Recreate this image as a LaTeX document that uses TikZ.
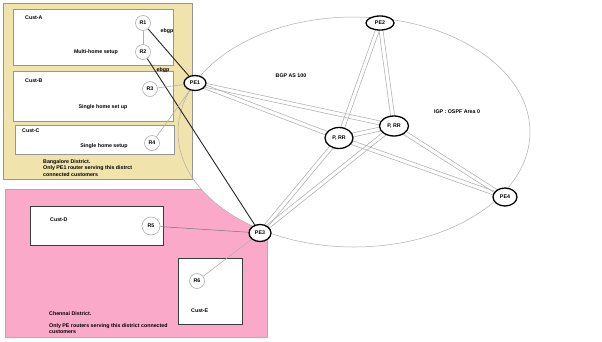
\documentclass[tikz,border=0pt]{standalone}
\usepackage{fontspec}
\setmainfont{Liberation Sans}
\usetikzlibrary{calc,shapes.geometric}
\pgfdeclarelayer{bg}
\pgfdeclarelayer{links}
\pgfsetlayers{bg,links,main}
\definecolor{yel}{RGB}{240,227,172}
\definecolor{pnk}{RGB}{250,170,200}
\definecolor{lg}{RGB}{175,175,175}
\definecolor{boxg}{RGB}{150,150,150}
\definecolor{dk}{RGB}{60,60,60}
\newcommand\duallink[2]{%
  \draw[link] ($(#1)!2pt!90:(#2)$) -- ($(#2)!2pt!-90:(#1)$);
  \draw[link] ($(#1)!2pt!-90:(#2)$) -- ($(#2)!2pt!90:(#1)$);}
\begin{document}
\begin{tikzpicture}[x=1pt,y=-1pt,
  txt/.style={font=\fontsize{5.3}{6.4}\selectfont\bfseries, inner sep=0pt},
  pe/.style={ellipse, draw=black, line width=1.3pt, fill=white, inner sep=0pt,
    font=\fontsize{5.3}{6.4}\selectfont\bfseries},
  rtr/.style={circle, draw=lg, line width=0.6pt, fill=white, minimum size=15pt, inner sep=0pt,
    font=\fontsize{5.3}{6.4}\selectfont\bfseries},
  custbox/.style={draw=boxg, line width=0.6pt, fill=white, inner sep=0pt},
  custdark/.style={draw=dk, line width=0.9pt, fill=white, inner sep=0pt},
  link/.style={draw=lg, line width=0.55pt},
  blk/.style={draw=black!85, line width=0.9pt},
]
\useasboundingbox (0,0) rectangle (602,341);

% ---------- backgrounds ----------
\begin{pgfonlayer}{bg}
  \fill[white] (0,0) rectangle (602,341);
  \draw[fill=pnk, draw=lg, line width=0.5pt] (5,189) rectangle (267,337);
  \fill[white] (354,132) ellipse [x radius=176pt, y radius=115pt];
  \draw[fill=yel, draw=boxg, line width=0.5pt] (3,3) rectangle (192,179);
  \draw[lg, line width=0.5pt] (354,132) ellipse [x radius=176pt, y radius=115pt];
  \node[custbox, minimum width=160pt, minimum height=56pt] (custA) at (93,37) {};
  \node[custbox, minimum width=160pt, minimum height=50pt] (custB) at (93,96) {};
  \node[custbox, minimum width=159pt, minimum height=29pt] (custC) at (94.5,139.5) {};
  \node[custdark, minimum width=133pt, minimum height=39pt] (custD) at (96.5,225.5) {};
  \node[custdark, minimum width=64pt, minimum height=66pt] (custE) at (210,291) {};
\end{pgfonlayer}

% ---------- texts ----------
\node[txt, anchor=west] (tA) at (25,18) {Cust-A};
\node[txt] (tAs) at (96,52) {Multi-home setup};
\node[txt, anchor=west] (tB) at (25,81) {Cust-B};
\node[txt] (tBs) at (103,107) {Single home set up};
\node[txt, anchor=west] (tC) at (22,131) {Cust-C};
\node[txt] (tCs) at (104,146) {Single home setup};
\node[txt, anchor=west] (tD) at (50,220) {Cust-D};
\node[txt, anchor=west] (tE) at (191,311) {Cust-E};
\node[txt] (eb1) at (167,31) {ebgp};
\node[txt] (eb2) at (163,70) {ebgp};
\node[txt] (bgp) at (291,76) {BGP AS 100};
\node[txt] (igp) at (457,112) {IGP : OSPF Area 0};
\node[txt, anchor=north west, align=left] (blr) at (43,159.5)
  {Bangalore District.\\Only PE1 router serving this distrct\\connected customers};
\node[txt, anchor=west] (chn) at (49,314) {Chennai District.};
\node[txt, anchor=north west, align=left] (chn2) at (49,323.5)
  {Only PE routers serving this district connected\\customers};

% ---------- core nodes ----------
\node[pe, minimum width=22pt, minimum height=15pt] (PE1) at (195,83) {PE1};
\node[pe, minimum width=28pt, minimum height=14pt] (PE2) at (380,23) {PE2};
\node[pe, minimum width=28pt, minimum height=21pt] (RRL) at (339,138) {P, RR};
\node[pe, minimum width=29pt, minimum height=20pt] (RRR) at (394,126) {P, RR};
\node[pe, minimum width=24pt, minimum height=18pt] (PE4) at (505,197) {PE4};
\node[pe, minimum width=22pt, minimum height=17pt] (PE3) at (260,233) {PE3};

% ---------- customer routers ----------
\node[rtr] (R1) at (143,23) {R1};
\node[rtr] (R2) at (143,52) {R2};
\node[rtr] (R3) at (150,89) {R3};
\node[rtr] (R4) at (152,143) {R4};
\node[rtr, minimum size=18pt] (R5) at (151,226) {R5};
\node[rtr] (R6) at (197,281) {R6};

% ---------- links ----------
\begin{pgfonlayer}{links}
  \duallink{PE1}{RRR}
  \duallink{PE1}{RRL}
  \duallink{PE2}{RRL}
  \duallink{PE2}{RRR}
  \duallink{RRL}{RRR}
  \duallink{RRL}{PE4}
  \duallink{RRR}{PE4}
  \duallink{PE3}{RRL}
  \duallink{PE3}{RRR}
  \draw[link] (R1) -- (R2);
  \draw[blk] (R1) -- (PE1);
  \draw[blk] (R2) -- (PE3);
  \draw[link] (R3) -- (PE1);
  \draw[link] (R4) -- (PE1);
  \draw[draw=dk!70, line width=0.5pt] (R5) -- (PE3);
  \draw[link] (R6) -- (PE3);
\end{pgfonlayer}
\end{tikzpicture}
\end{document}
